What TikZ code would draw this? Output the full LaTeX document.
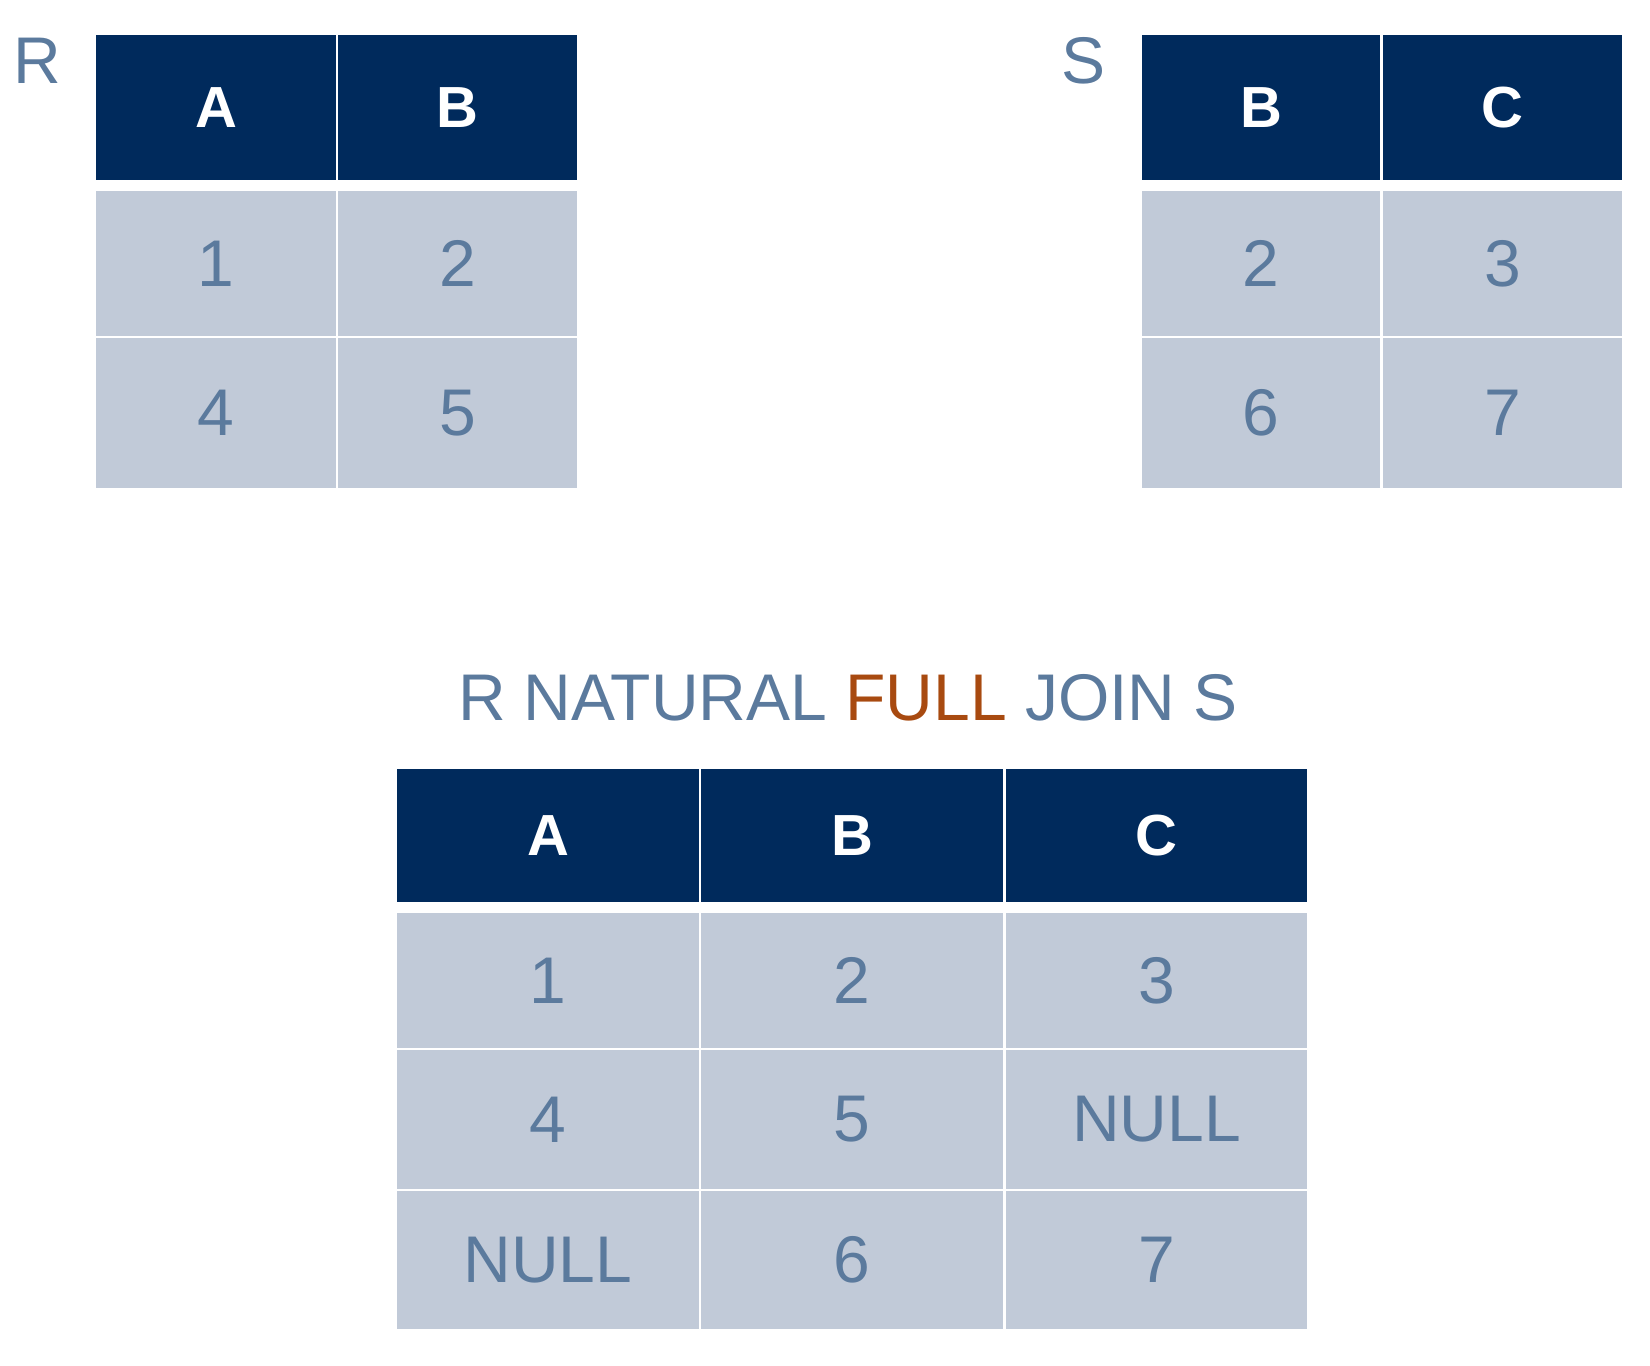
\documentclass[tikz,border=0pt]{standalone}
\usepackage{fontspec}
\setmainfont{Liberation Sans}
\definecolor{hdr}{HTML}{002A5C}
\definecolor{cellc}{HTML}{C1CAD8}
\definecolor{txt}{HTML}{5B7A9D}
\definecolor{org}{HTML}{A84A10}
\newcommand{\hcell}[6]{\fill[hdr] (#2,#3) rectangle (#4,#5);
  \node[hd] (#1) at ({(#2+#4)/2},{(#3+#5)/2}) {#6};}
\newcommand{\dcell}[6]{\fill[cellc] (#2,#3) rectangle (#4,#5);
  \node[dt] (#1) at ({(#2+#4)/2},{(#3+#5)/2}) {#6};}
\begin{document}
\begin{tikzpicture}[x=0.5pt,y=-0.5pt,
  hd/.style={text=white,font=\fontsize{29}{34}\selectfont\bfseries,inner sep=0pt},
  dt/.style={text=txt,font=\fontsize{33}{38}\selectfont,inner sep=0pt},
  lbl/.style={text=txt,font=\fontsize{33}{38}\selectfont,inner sep=0pt}]
\useasboundingbox (0,0) rectangle (1650,1366);
% R
\node[lbl] (rl) at (37,61) {R};
\hcell{ra}{96}{35}{336}{180}{A}
\hcell{rb}{338}{35}{577}{180}{B}
\dcell{r11}{96}{191}{336}{336}{1}
\dcell{r12}{338}{191}{577}{336}{2}
\dcell{r21}{96}{338}{336}{488}{4}
\dcell{r22}{338}{338}{577}{488}{5}
% S
\node[lbl] (sl) at (1083,61) {S};
\hcell{sb}{1142}{35}{1380}{180}{B}
\hcell{sc}{1383}{35}{1622}{180}{C}
\dcell{s11}{1142}{191}{1380}{336}{2}
\dcell{s12}{1383}{191}{1622}{336}{3}
\dcell{s21}{1142}{338}{1380}{488}{6}
\dcell{s22}{1383}{338}{1622}{488}{7}
% title
\node[lbl] (title) at (848,698) {R NATURAL \textcolor{org}{FULL} JOIN S};
% result
\hcell{ta}{397}{769}{699}{902}{A}
\hcell{tb}{701}{769}{1003}{902}{B}
\hcell{tc}{1006}{769}{1307}{902}{C}
\dcell{t11}{397}{913}{699}{1048}{1}
\dcell{t12}{701}{913}{1003}{1048}{2}
\dcell{t13}{1006}{913}{1307}{1048}{3}
\dcell{t21}{397}{1050}{699}{1189}{4}
\dcell{t22}{701}{1050}{1003}{1189}{5}
\dcell{t23}{1006}{1050}{1307}{1189}{NULL}
\dcell{t31}{397}{1191}{699}{1329}{NULL}
\dcell{t32}{701}{1191}{1003}{1329}{6}
\dcell{t33}{1006}{1191}{1307}{1329}{7}
\end{tikzpicture}
\end{document}
